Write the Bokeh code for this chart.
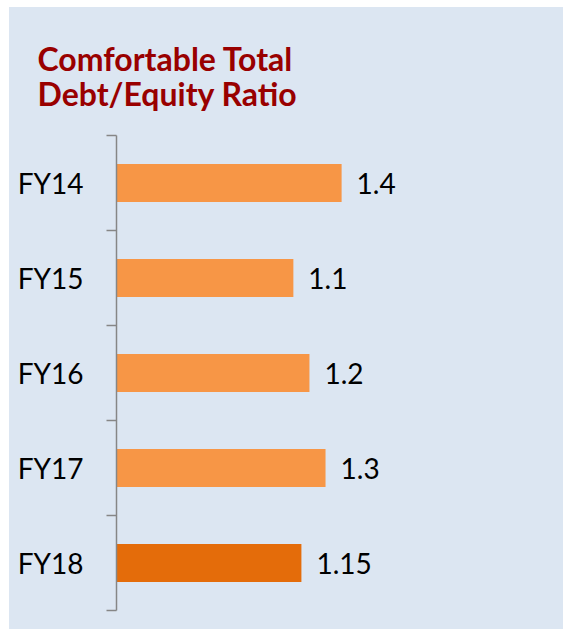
from bokeh.plotting import figure
from bokeh.models import ColumnDataSource, FixedTicker, Range1d
from bokeh.core.properties import value
from bokeh.embed import file_html
from bokeh.resources import INLINE

categories = ["FY14", "FY15", "FY16", "FY17", "FY18"]
ratios = [1.4, 1.1, 1.2, 1.3, 1.15]
value_labels = ["1.4", "1.1", "1.2", "1.3", "1.15"]
bar_colors = ["#f79646", "#f79646", "#f79646", "#f79646", "#e46c0a"]
title_text = "Comfortable Total\nDebt/Equity Ratio"

n = len(categories)
ypos = [n - 1 - i for i in range(n)]
src = ColumnDataSource(dict(y=ypos, v=ratios, c=bar_colors, t=value_labels))

BG = "#dce6f2"
AX = "#868686"
FONT = "Lato"

p = figure(width=554, height=622, output_backend="svg", toolbar_location=None,
           x_range=Range1d(0, 2.78), y_range=Range1d(-0.5, n - 0.5),
           min_border_left=107, min_border_right=0, min_border_top=128,
           min_border_bottom=19)
p.margin = (7, 0, 0, 9)
p.styles = {"background-color": BG}
p.background_fill_alpha = 0
p.border_fill_color = BG
p.outline_line_color = None
p.xgrid.visible = False
p.ygrid.visible = False
p.xaxis.visible = False

p.hbar(y="y", right="v", left=0, height=0.4, fill_color="c", line_color=None, source=src)
p.text(x="v", y="y", text="t", x_offset=15, text_baseline="middle", text_align="left",
       text_font=value(FONT), text_font_size="28px", text_color="#000000", source=src)

yax = p.yaxis[0]
yax.ticker = FixedTicker(ticks=ypos, minor_ticks=[i - 0.5 for i in range(n + 1)])
yax.major_label_overrides = {y: c for y, c in zip(ypos, categories)}
yax.axis_line_color = AX
yax.axis_line_width = 1.5
yax.major_tick_line_color = None
yax.major_tick_out = 0
yax.major_tick_in = 0
yax.minor_tick_line_color = AX
yax.minor_tick_line_width = 1.5
yax.minor_tick_out = 10
yax.minor_tick_in = 0
yax.major_label_standoff = 23
yax.major_label_text_font = FONT
yax.major_label_text_font_size = "28px"
yax.major_label_text_color = "#000000"

p.title.text = title_text
p.title.align = "left"
p.title.offset = -79
p.title.text_font = FONT
p.title.text_font_size = "32px"
p.title.text_font_style = "bold"
p.title.text_color = "#990000"
p.title.text_line_height = 0.91
p.title.standoff = 45

open("out.html", "w").write(file_html(p, INLINE))
